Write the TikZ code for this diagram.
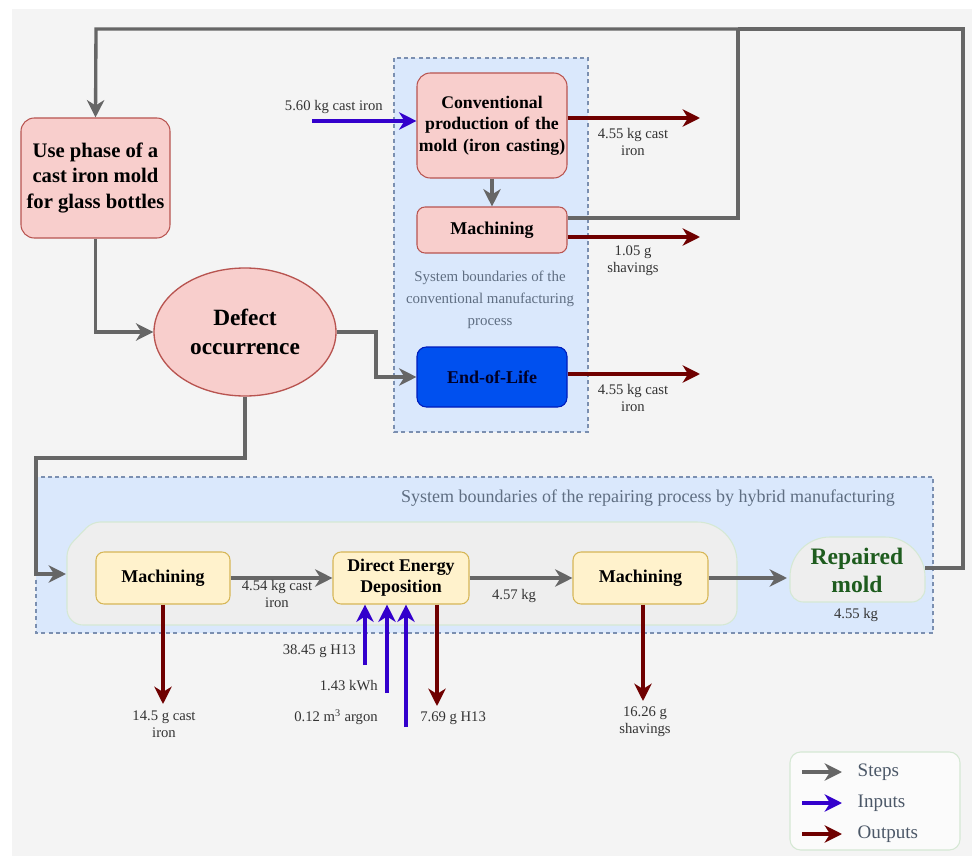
\documentclass[tikz,border=0pt]{standalone}
\usepackage{fontspec}
\setmainfont{Liberation Serif}
\usetikzlibrary{arrows.meta,shapes.geometric,calc}
\definecolor{bgc}{HTML}{F4F4F4}
\definecolor{pinkf}{HTML}{F8CECC}
\definecolor{pinkd}{HTML}{B85450}
\definecolor{yelf}{HTML}{FFF2CC}
\definecolor{yeld}{HTML}{D6B656}
\definecolor{bluef}{HTML}{DAE8FC}
\definecolor{blued}{HTML}{7B8FB0}
\definecolor{eolf}{HTML}{0050EF}
\definecolor{eold}{HTML}{001DBC}
\definecolor{stepc}{HTML}{666666}
\definecolor{inc}{HTML}{3300CC}
\definecolor{outc}{HTML}{6F0000}
\definecolor{grnd}{HTML}{D5E8D4}
\definecolor{contf}{HTML}{EEEEEE}
\definecolor{txtc}{HTML}{333333}
\definecolor{bndc}{HTML}{5F6E82}
\definecolor{repc}{HTML}{1E5C1E}
\tikzset{
  stepline/.style={draw=stepc,line width=2.5pt,-{Stealth[length=13pt,width=13pt,inset=4pt]}},
  stepplain/.style={draw=stepc,line width=2.5pt},
  inline/.style={draw=inc,line width=2.5pt,-{Stealth[length=13pt,width=13pt,inset=4pt]}},
  outline/.style={draw=outc,line width=2.5pt,-{Stealth[length=13pt,width=13pt,inset=4pt]}},
  pinkbox/.style={draw=pinkd,fill=pinkf,line width=0.8pt,rounded corners=10pt,align=center,font=\bfseries,text=black},
  yelbox/.style={draw=yeld,fill=yelf,line width=0.8pt,rounded corners=6pt,align=center,font=\fontsize{13.5}{15}\selectfont\bfseries,text=black,minimum height=39pt},
  lbl/.style={font=\fontsize{11}{12.5}\selectfont,text=txtc,align=center,inner sep=0pt},
  region/.style={fill=bluef,draw=blued,dashed,line width=0.8pt,dash pattern=on 3pt off 2.5pt},
}
\begin{document}
\begin{tikzpicture}[x=0.75pt,y=-0.75pt]
\useasboundingbox (0,0) rectangle (972,856);
\fill[white] (0,0) rectangle (972,856);
\fill[bgc] (12,9) rectangle (972,856);
% regions
\draw[region] (394,58) rectangle (588,432);
\draw[region] (36,477) rectangle (933,633);
\node[font=\fontsize{13.5}{15}\selectfont,text=bndc] (reptitle) at (648,498) {System boundaries of the repairing process by hybrid manufacturing};
\node[font=\fontsize{11.2}{16.5}\selectfont,text=bndc,align=center] (convtitle) at (490,300) {System boundaries of the\\conventional manufacturing\\process};
% green container
\draw[draw=grnd,fill=contf,line width=0.8pt]
  (67,600) [rounded corners=6pt] -- (67,548) -- (92,522) [rounded corners=30pt] -- (737,522) [rounded corners=12pt] -- (737,625) -- (67,625) [sharp corners] -- cycle;
% nodes
\node[pinkbox,minimum width=111.75pt,minimum height=90pt,font=\fontsize{15.5}{19}\selectfont\bfseries] (use) at (95.5,178) {Use phase of a\\cast iron mold\\for glass bottles};
\node[ellipse,draw=pinkd,fill=pinkf,line width=1pt,minimum width=136.5pt,minimum height=96pt,align=center,font=\fontsize{17.5}{22}\selectfont\bfseries] (defect) at (245,332) {Defect\\occurrence};
\node[pinkbox,inner sep=1pt,text width=110pt,minimum width=112.5pt,minimum height=78.75pt,font=\fontsize{13.3}{16}\selectfont\bfseries] (conv) at (492,125.5) {Conventional\\production of the\\mold (iron casting)};
\node[pinkbox,rounded corners=6pt,minimum width=112.5pt,minimum height=34.5pt,font=\fontsize{13.5}{15}\selectfont\bfseries] (machc) at (492,230) {Machining};
\node[draw=eold,fill=eolf,line width=0.8pt,rounded corners=7pt,minimum width=112.5pt,minimum height=45pt,font=\fontsize{13.5}{15}\selectfont\bfseries,text=black!85!blue] (eol) at (492,377) {End-of-Life};
\node[yelbox,minimum width=100.5pt] (mach1) at (163,578) {Machining};
\node[yelbox,minimum width=102pt,font=\fontsize{13.4}{16}\selectfont\bfseries] (ded) at (401,578) {Direct Energy\\Deposition};
\node[yelbox,minimum width=101.25pt] (mach2) at (640.5,578) {Machining};
\draw[draw=grnd,fill=contf,line width=0.8pt] (857,602) [rounded corners=10pt] -- (790,602) [rounded corners=30pt] -- (790,537) -- (925,537) [rounded corners=10pt] -- (925,602) [sharp corners] -- cycle;
\node[align=center,font=\fontsize{17.7}{21}\selectfont\bfseries,text=repc] (rep) at (857,570) {Repaired\\mold};
\node[lbl] (repw) at (856,615) {4.55 kg};
% coordinates
\coordinate (tl) at (96,29);
\coordinate (tm) at (738,29);
\coordinate (tr) at (963,29);
\coordinate (mr) at (738,218);
\coordinate (rr) at (963,568);
\coordinate (repin) at (787,578);
\coordinate (contin) at (66,574);
% step connectors
\draw[stepplain] (machc.east |- mr) -- (mr) -- (tm);
\draw[stepplain] (925,568) -- (rr) -- (tr) -- (tm);
\draw[stepline] (tm) -- (tl) -- (use.north);
\draw[stepline] (use.south) |- (defect.west);
\draw[stepline] (defect.east) -- (376,332) |- (eol.west);
\draw[stepline] (defect.south) -- (245,458) -- (36,458) |- (contin);
\draw[stepline] (conv.south) -- (machc.north);
\draw[stepline] (mach1.east) -- (ded.west);
\draw[stepline] (ded.east) -- (mach2.west);
\draw[stepline] (mach2.east) -- (repin);
\node[lbl] at (277,594) {4.54 kg cast\\iron};
\node[lbl] at (514,596) {4.57 kg};
% conventional inputs / outputs
\coordinate (cin) at (312,121);
\draw[inline] (cin) -- (cin -| conv.west);
\node[lbl,anchor=east] (cinl) at (383,107) {5.60 kg cast iron};
\coordinate (co1) at (700,118);
\draw[outline] (co1 -| conv.east) -- (co1);
\node[lbl] at (633,142) {4.55 kg cast\\iron};
\coordinate (co2) at (700,237);
\draw[outline] (co2 -| machc.east) -- (co2);
\node[lbl] at (633,261) {1.05 g\\shavings};
\coordinate (co3) at (700,374);
\draw[outline] (co3 -| eol.east) -- (co3);
\node[lbl] at (633,398) {4.55 kg cast\\iron};
% repair inputs / outputs
\coordinate (ro1) at (163,704);
\draw[outline] (mach1.south) -- (ro1);
\node[lbl] at (164,724) {14.5 g cast\\iron};
\coordinate (di1) at (365,665);
\coordinate (di2) at (387,693);
\coordinate (di3) at (406,727);
\draw[inline] (di1) -- (di1 |- ded.south);
\draw[inline] (di2) -- (di2 |- ded.south);
\draw[inline] (di3) -- (di3 |- ded.south);
\node[lbl,anchor=east] at (356,651) {38.45 g H13};
\node[lbl,anchor=east] at (378,686) {1.43 kWh};
\node[lbl,anchor=east] at (378,717) {0.12 m\textsuperscript{3} argon};
\coordinate (do1) at (437,706);
\draw[outline] (do1 |- ded.south) -- (do1);
\node[lbl,anchor=west] at (420,718) {7.69 g H13};
\coordinate (ro2) at (643,701);
\draw[outline] (ro2 |- mach2.south) -- (ro2);
\node[lbl] at (645,722) {16.26 g\\shavings};
% legend
\draw[draw=grnd,fill=white!60!bgc,line width=0.8pt,rounded corners=8pt] (790,752) rectangle (960,850);
\coordinate (l1a) at (802,772); \coordinate (l1b) at (842,772);
\coordinate (l2a) at (802,803); \coordinate (l2b) at (842,803);
\coordinate (l3a) at (802,834); \coordinate (l3b) at (842,834);
\draw[stepline] (l1a) -- (l1b);
\draw[inline] (l2a) -- (l2b);
\draw[outline] (l3a) -- (l3b);
\node[anchor=west,font=\fontsize{14.3}{15}\selectfont,text=bndc!80!black] at (853,772) {Steps};
\node[anchor=west,font=\fontsize{14.3}{15}\selectfont,text=bndc!80!black] at (853,803) {Inputs};
\node[anchor=west,font=\fontsize{14.3}{15}\selectfont,text=bndc!80!black] at (853,834) {Outputs};
\end{tikzpicture}
\end{document}
